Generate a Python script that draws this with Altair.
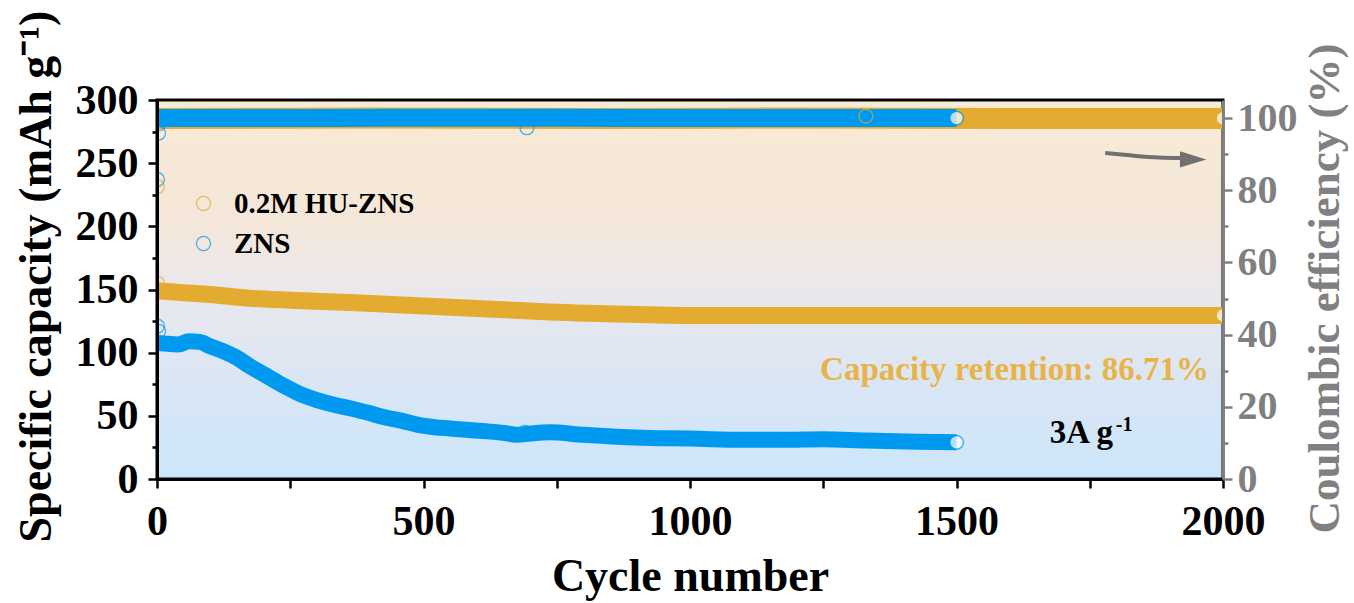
import altair as alt
import pandas as pd

FONT = "Liberation Serif"
ORANGE = "#E3AC30"
BLUE = "#0099F0"
GRAY = "#808080"
TEXT_ORANGE = "#E8B448"
ARROW_GRAY = "#707070"

W, H = 1066, 379

# ---- data ----
series_names = ["0.2M HU-ZNS", "ZNS"]

hu_cap_cycles = [0, 50, 100, 175, 250, 362, 450, 550, 650, 737, 830, 925, 1000, 1200, 1500, 1800, 2000]
hu_cap_values = [149, 147.5, 146, 143, 141.5, 139.7, 138, 136, 134, 132.2, 131, 130, 129.5, 129.5, 129.5, 129.5, 129.5]

zns_cap_cycles = [0, 20, 40, 60, 80, 100, 125, 150, 175, 200, 237, 270, 300, 330, 362, 400, 425, 460, 488,
                  520, 550, 612, 650, 675, 700, 737, 800, 863, 925, 1000, 1100, 1175, 1250, 1330, 1426, 1500]
zns_cap_values = [108, 107, 106.5, 109, 108.5, 105, 101, 96, 89, 83, 74, 67, 62.5, 59, 56, 52, 49, 46, 43,
                  41, 40, 38, 36.5, 35, 36, 37, 35, 33.5, 32.5, 32, 31, 31, 31.5, 30.5, 29.5, 29]

hu_ce_cycles = [0, 400, 800, 1200, 1600, 2000]
hu_ce_values = [99.9, 100.0, 99.9, 100.0, 99.9, 99.9]

zns_ce_cycles = [0, 300, 600, 900, 1200, 1500]
zns_ce_values = [100.0, 100.0, 100.1, 100.0, 100.0, 100.0]

# hollow outlier markers (capacity)
cap_mark_series = ["0.2M HU-ZNS", "ZNS", "ZNS", "ZNS"]
cap_mark_cycles = [1, 1, 3, 690]
cap_mark_values = [155, 121, 117, 37]

# hollow outlier markers (coulombic efficiency)
ce_mark_series = ["0.2M HU-ZNS", "ZNS", "ZNS", "ZNS", "ZNS", "ZNS", "0.2M HU-ZNS"]
ce_mark_cycles = [1, 1, 3, 5, 600, 694, 1330]
ce_mark_values = [81, 83, 95.8, 98.5, 100.3, 97.3, 100.5]

# last-cycle markers (white filled)
cap_end_series = ["0.2M HU-ZNS", "ZNS"]
cap_end_cycles = [2000, 1500]
cap_end_values = [129.5, 29]
ce_end_series = ["0.2M HU-ZNS", "ZNS"]
ce_end_cycles = [2000, 1500]
ce_end_values = [99.9, 100.0]

# annotation arrow (towards right axis)
arrow_cycles = [1779, 1830, 1880, 1921]
arrow_caps = [258, 256, 254.5, 254]
arrow_head_cycle = [1944]
arrow_head_cap = [253]

note_texts = ["Capacity retention: 86.71%", "3A g", "-1"]
note_cycles = [1244, 1675, 1675]
note_caps = [78.4, 28.5, 28.5]

colors = [ORANGE, BLUE]

# ---- frames ----
hu_cap_df = pd.DataFrame({"cycle": hu_cap_cycles, "cap": hu_cap_values})
zns_cap_df = pd.DataFrame({"cycle": zns_cap_cycles, "cap": zns_cap_values})
hu_ce_df = pd.DataFrame({"cycle": hu_ce_cycles, "ce": hu_ce_values})
zns_ce_df = pd.DataFrame({"cycle": zns_ce_cycles, "ce": zns_ce_values})
cap_mark_df = pd.DataFrame({"series": cap_mark_series, "cycle": cap_mark_cycles, "cap": cap_mark_values})
ce_mark_df = pd.DataFrame({"series": ce_mark_series, "cycle": ce_mark_cycles, "ce": ce_mark_values})
cap_end_df = pd.DataFrame({"series": cap_end_series, "cycle": cap_end_cycles, "cap": cap_end_values})
ce_end_df = pd.DataFrame({"series": ce_end_series, "cycle": ce_end_cycles, "ce": ce_end_values})
arrow_df = pd.DataFrame({"cycle": arrow_cycles, "cap": arrow_caps})
head_df = pd.DataFrame({"cycle": arrow_head_cycle, "cap": arrow_head_cap})
bg_df = pd.DataFrame({"cycle": [0], "cycle2": [2000], "cap": [0], "cap2": [300]})
notes_df = pd.DataFrame({"t": note_texts, "cycle": note_cycles, "cap": note_caps})

xscale = alt.Scale(domain=[0, 2000], nice=False, zero=False)
yscale = alt.Scale(domain=[0, 300], nice=False, zero=False)
rscale = alt.Scale(domain=[0, 105], nice=False, zero=False)
cscale = alt.Scale(domain=series_names, range=colors)

common_axis = dict(
    grid=False, zindex=1, domainColor="black", domainWidth=3, tickColor="black", tickWidth=2.5,
    labelFont=FONT, labelFontWeight="bold", labelColor="black", labelFontSize=42,
    titleFont=FONT, titleFontWeight="bold", titleColor="black", titleFontSize=46,
    labelOverlap=False, labelFlush=False,
)

x_axis = alt.Axis(
    values=list(range(0, 2001, 250)),
    labelExpr="datum.value % 500 === 0 ? '' + datum.value : ''",
    tickSize=9, labelPadding=13,
    title="Cycle number", titleX=W / 2, titleY=111, titleAlign="center", titleBaseline="alphabetic",
    **common_axis,
)

left_axis = alt.Axis(
    values=list(range(0, 301, 25)),
    labelExpr="datum.value % 50 === 0 ? datum.label : ''",
    tickSize={"condition": {"test": "datum.value % 50 === 0", "value": 9}, "value": 5},
    labelPadding=10,
    title="Specific capacity (mAh g\u207b\u00b9)", titleAngle=270, titleAlign="left",
    titleBaseline="alphabetic", titleX=-107, titleY=442,
    **common_axis,
)

right_common = dict(common_axis)
right_common.update(domainColor=GRAY, tickColor=GRAY, labelColor=GRAY, titleColor=GRAY,
                    labelFontSize=40, titleFontSize=45)
right_axis = alt.Axis(
    orient="right",
    values=list(range(0, 101, 10)),
    labelExpr="datum.value % 20 === 0 ? datum.label : ''",
    tickSize={"condition": {"test": "datum.value % 20 === 0", "value": 9}, "value": 5},
    labelPadding=5,
    title="Coulombic efficiency (%)", titleAngle=270, titleAlign="center",
    titleBaseline="alphabetic", titleX=115, titleY=188,
    **right_common,
)

X = alt.X("cycle:Q", scale=xscale, axis=x_axis)
YL = alt.Y("cap:Q", scale=yscale, axis=left_axis)
YR = alt.Y("ce:Q", scale=rscale, axis=right_axis)

gradient = {
    "gradient": "linear", "x1": 0, "x2": 0, "y1": 0, "y2": 1,
    "stops": [
        {"offset": 0, "color": "#F9EAD5"},
        {"offset": 0.33, "color": "#F4E7DA"},
        {"offset": 0.5, "color": "#EAE8ED"},
        {"offset": 0.75, "color": "#DAE6F4"},
        {"offset": 1, "color": "#CBE6FB"},
    ],
}

bg = alt.Chart(bg_df).mark_rect(fill=gradient, stroke="black", strokeWidth=3).encode(
    x=X, x2="cycle2:Q", y=YL, y2="cap2:Q",
)

hu_cap = alt.Chart(hu_cap_df).mark_line(color=ORANGE, strokeWidth=17, interpolate="monotone", clip=True).encode(
    x=X, y=YL,
)
zns_cap = alt.Chart(zns_cap_df).mark_line(color=BLUE, strokeWidth=16, interpolate="monotone", clip=True).encode(
    x=X, y=YL,
)
cap_marks = alt.Chart(cap_mark_df).mark_point(shape="circle", filled=False, size=190, strokeWidth=1.3, clip=True).encode(
    x=X, y=YL,
    color=alt.Color("series:N", scale=cscale, sort=series_names, legend=alt.Legend(
        title=None, orient="none", legendX=32, legendY=89, direction="vertical",
        labelFont=FONT, labelFontWeight="bold", labelFontSize=29, labelColor="black", labelLimit=500,
        symbolType="circle", symbolSize=200, symbolStrokeWidth=1.3, symbolFillColor="white",
        rowPadding=10, labelOffset=16, padding=0,
    )),
)
cap_end = alt.Chart(cap_end_df).mark_point(shape="circle", filled=False, size=190, strokeWidth=1.5, clip=True).encode(
    x=X, y=YL,
    stroke=alt.Stroke("series:N", scale=alt.Scale(domain=series_names, range=colors), legend=None),
    fill=alt.value("white"),
)
arrow_line = alt.Chart(arrow_df).mark_line(color=ARROW_GRAY, strokeWidth=4, interpolate="monotone").encode(
    x=X, y=YL,
)
arrow_head = alt.Chart(head_df).mark_point(shape="M-1,-0.62L1,0L-1,0.62Z", filled=True, size=700,
                                            color=ARROW_GRAY, opacity=1).encode(
    x=X, y=YL,
)

retention = alt.Chart(notes_df).transform_filter(alt.datum.t == note_texts[0]).mark_text(
    font=FONT, fontWeight="bold", fontSize=33, color=TEXT_ORANGE, align="left", baseline="alphabetic"
).encode(x=X, y=YL, text="t:N")

rate = alt.Chart(notes_df).transform_filter(alt.datum.t == note_texts[1]).mark_text(
    font=FONT, fontWeight="bold", fontSize=33, color="black", align="left", baseline="alphabetic"
).encode(x=X, y=YL, text="t:N")

rate_sup = alt.Chart(notes_df).transform_filter(alt.datum.t == note_texts[2]).mark_text(
    font=FONT, fontWeight="bold", fontSize=20, color="black", align="left", baseline="alphabetic", dx=66, dy=-12
).encode(x=X, y=YL, text="t:N")

left = alt.layer(bg, hu_cap, zns_cap, cap_marks, cap_end, arrow_line, arrow_head, retention, rate, rate_sup)

hu_ce = alt.Chart(hu_ce_df).mark_line(color=ORANGE, strokeWidth=21, interpolate="monotone", clip=True).encode(
    x=X, y=YR,
)
zns_ce = alt.Chart(zns_ce_df).mark_line(color=BLUE, strokeWidth=18, interpolate="monotone", clip=True).encode(
    x=X, y=YR,
)
ce_marks = alt.Chart(ce_mark_df).mark_point(shape="circle", filled=False, size=190, strokeWidth=1.3, clip=True).encode(
    x=X, y=YR,
    color=alt.Color("series:N", scale=cscale, legend=None),
)
ce_end = alt.Chart(ce_end_df).mark_point(shape="circle", filled=False, size=190, strokeWidth=1.5, clip=True).encode(
    x=X, y=YR,
    stroke=alt.Stroke("series:N", scale=alt.Scale(domain=series_names, range=colors), legend=None),
    fill=alt.value("white"),
)

right = alt.layer(hu_ce, zns_ce, ce_marks, ce_end)

chart = alt.layer(left, right).resolve_scale(y="independent").properties(
    width=W, height=H,
    autosize=alt.AutoSizeParams(type="none"),
    padding={"left": 157, "top": 100, "right": 131, "bottom": 124},
    background="white",
).configure_view(stroke=None)

chart.save("out.html", embed_options={"renderer": "svg", "actions": False})
